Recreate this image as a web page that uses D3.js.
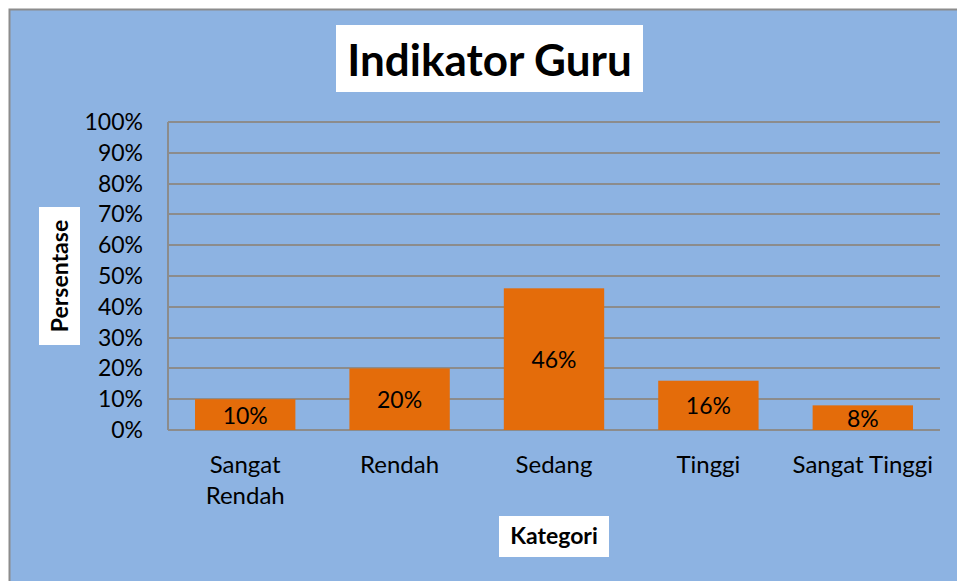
<!DOCTYPE html>
<html>
<head>
<meta charset="utf-8">
<script src="https://cdn.jsdelivr.net/npm/d3@7"></script>
<style>
  body { margin: 0; background: #fff; }
  text { font-family: Lato, "Open Sans", sans-serif; }
</style>
</head>
<body>
<svg id="chart" width="957" height="581"></svg>
<script>
var categories = [["Sangat", "Rendah"], ["Rendah"], ["Sedang"], ["Tinggi"], ["Sangat Tinggi"]];
var values = [0.10, 0.20, 0.46, 0.16, 0.08];
var yTicks = [0, 0.1, 0.2, 0.3, 0.4, 0.5, 0.6, 0.7, 0.8, 0.9, 1.0];

var svg = d3.select('#chart');
var plotL = 168, plotR = 940, plotT = 122, plotB = 430;

// chart area background
svg.append('rect')
  .attr('x', 9.5).attr('y', 9.5).attr('width', 960).attr('height', 590)
  .style('fill', '#8db3e2').style('stroke', '#8c8c8c').style('stroke-width', 2);

var x = d3.scaleBand().domain(d3.range(categories.length)).range([plotL, plotR]).paddingInner(0.35).paddingOuter(0.175);
var y = d3.scaleLinear().domain([0, 1]).range([plotB, plotT]);

// gridlines
svg.append('g').selectAll('line').data(yTicks).enter().append('line')
  .attr('x1', plotL).attr('x2', plotR)
  .attr('y1', function(d){ return Math.round(y(d)); })
  .attr('y2', function(d){ return Math.round(y(d)); })
  .style('stroke', '#8c8c8c').style('stroke-width', 2);
svg.append('line')
  .attr('x1', plotL).attr('x2', plotL).attr('y1', plotT).attr('y2', plotB)
  .style('stroke', '#8c8c8c').style('stroke-width', 2);

// y tick labels
svg.append('g').selectAll('text').data(yTicks).enter().append('text')
  .attr('x', 143).attr('y', function(d){ return y(d) + 8; })
  .attr('text-anchor', 'end').style('font-size', '23px').style('fill', '#000')
  .text(d3.format('.0%'));

// bars
svg.append('g').selectAll('rect').data(values).enter().append('rect')
  .attr('x', function(d, i){ return x(i); })
  .attr('width', x.bandwidth())
  .attr('y', function(d){ return y(d); })
  .attr('height', function(d){ return y(0) - y(d); })
  .style('fill', '#e46c0a');

// data labels
svg.append('g').selectAll('text').data(values).enter().append('text')
  .attr('x', function(d, i){ return x(i) + x.bandwidth() / 2; })
  .attr('y', function(d){ return (y(d) + y(0)) / 2 + 9; })
  .attr('text-anchor', 'middle').style('font-size', '23px').style('fill', '#000')
  .text(d3.format('.0%'));

// category labels
var cat = svg.append('g').selectAll('text').data(categories).enter().append('text')
  .attr('x', function(d, i){ return x(i) + x.bandwidth() / 2; })
  .attr('y', 473)
  .attr('text-anchor', 'middle').style('font-size', '24px').style('fill', '#000');
cat.selectAll('tspan').data(function(d){ return d; }).enter().append('tspan')
  .attr('x', function(){ return d3.select(this.parentNode).attr('x'); })
  .attr('dy', function(d, i){ return i === 0 ? 0 : 31; })
  .text(function(d){ return d; });

// title
svg.append('rect').attr('x', 336).attr('y', 25).attr('width', 307).attr('height', 67).style('fill', '#fff');
svg.append('text').attr('x', 489.5).attr('y', 76).attr('text-anchor', 'middle')
  .style('font-size', '44px').style('font-weight', 'bold').text('Indikator Guru');

// axis titles
svg.append('rect').attr('x', 39).attr('y', 207).attr('width', 41).attr('height', 138).style('fill', '#fff');
svg.append('text').attr('transform', 'translate(68,276) rotate(-90)').attr('text-anchor', 'middle')
  .style('font-size', '23px').style('font-weight', 'bold').text('Persentase');

svg.append('rect').attr('x', 499).attr('y', 516).attr('width', 110).attr('height', 41).style('fill', '#fff');
svg.append('text').attr('x', 554).attr('y', 544).attr('text-anchor', 'middle')
  .style('font-size', '23px').style('font-weight', 'bold').text('Kategori');
</script>
</body>
</html>
